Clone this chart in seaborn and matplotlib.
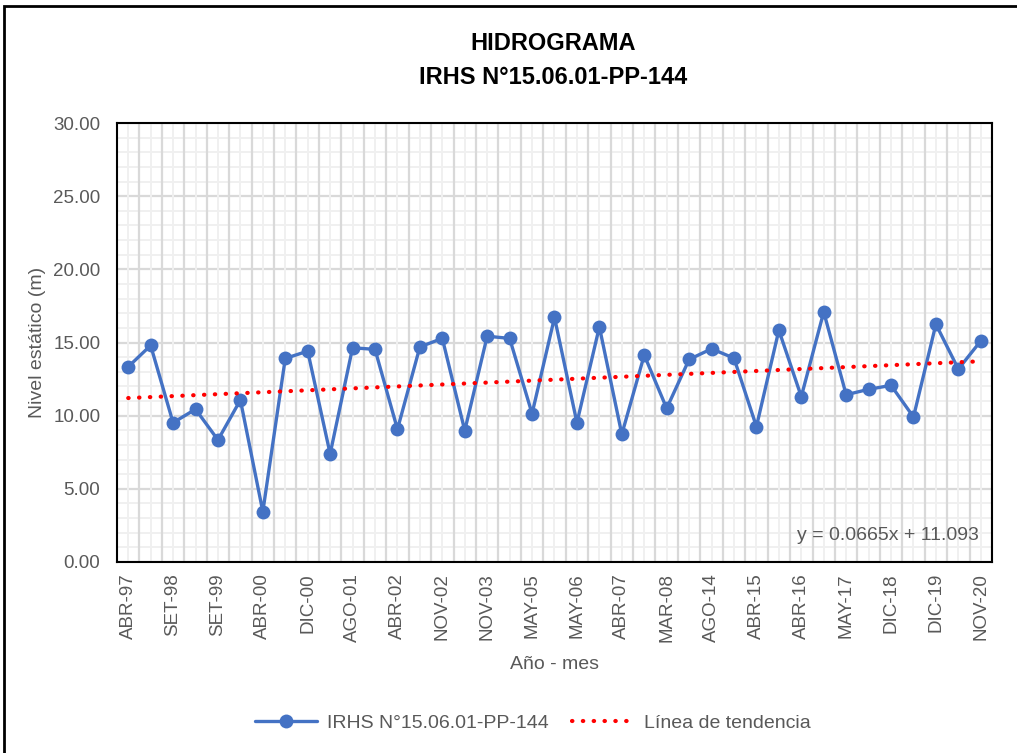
import numpy as np
import pandas as pd
import matplotlib
matplotlib.use("Agg")
import matplotlib.pyplot as plt
from matplotlib.patches import Rectangle
from matplotlib.lines import Line2D
import seaborn as sns

# ---- data ----
serie = "IRHS N°15.06.01-PP-144"
nivel = [13.34, 14.80, 9.52, 10.44, 8.34, 11.07, 3.44, 13.91, 14.41, 7.39,
         14.64, 14.53, 9.07, 14.70, 15.28, 8.98, 15.43, 15.28, 10.14, 16.71,
         9.52, 16.07, 8.73, 14.14, 10.50, 13.84, 14.57, 13.93, 9.25, 15.84,
         11.30, 17.09, 11.43, 11.80, 12.07, 9.91, 16.25, 13.18, 15.11]
etiquetas = ["ABR-97", "SET-98", "SET-99", "ABR-00", "DIC-00", "AGO-01", "ABR-02",
             "NOV-02", "NOV-03", "MAY-05", "MAY-06", "ABR-07", "MAR-08", "AGO-14",
             "ABR-15", "ABR-16", "MAY-17", "DIC-18", "DIC-19", "NOV-20"]
y_ticks = [0, 5, 10, 15, 20, 25, 30]
ecuacion = "y = 0.0665x + 11.093"

df = pd.DataFrame({"idx": np.arange(len(nivel)), "nivel": nivel})
coef = np.polyfit(df["idx"] + 1, df["nivel"], 1)
df["tendencia"] = np.polyval(coef, df["idx"] + 1)

sns.set_theme(style="white")
plt.rcParams["font.family"] = ["Liberation Sans", "DejaVu Sans"]

fig = plt.figure(figsize=(10.17, 7.53), dpi=100)
ax = fig.add_axes([117/1017, 1-562/753, (992-117)/1017, (562-123)/753])

gray = "#595959"
blue = "#4472C4"

# grid
for v in np.arange(0, 30.01, 1):
    major = (round(v) % 5 == 0)
    ax.axhline(v, color="#D9D9D9" if major else "#F0F0F0", lw=1.6 if major else 1.4, zorder=0)
for i in range(len(nivel)):
    ax.axvline(i, color="#F0F0F0", lw=1.4, zorder=0)
    ax.axvline(i + 0.5, color="#D9D9D9", lw=1.6, zorder=0)

sns.lineplot(data=df, x="idx", y="nivel", ax=ax, color=blue, lw=2.4,
             marker="o", markersize=10, markeredgewidth=0, zorder=3)
sns.lineplot(data=df, x="idx", y="tendencia", ax=ax, color="#FF0000", lw=3.0,
             linestyle=(0, (0.1, 2.5)), dash_capstyle="round", zorder=4)

ax.set_xlim(-0.5, len(nivel) - 0.5)
ax.set_ylim(0, 30)
ax.set_yticks(y_ticks)
ax.set_yticklabels([f"{v:.2f}" for v in y_ticks], color=gray, fontsize=13.5)
ax.set_xticks(np.arange(0, len(nivel), 2))
ax.set_xticklabels(etiquetas, rotation=90, color=gray, fontsize=13.5)
ax.tick_params(axis="y", length=0, pad=12)
ax.tick_params(axis="x", length=0, pad=8)
ax.set_xlabel("Año - mes", color=gray, fontsize=14, labelpad=10)
ax.set_ylabel("Nivel estático (m)", color=gray, fontsize=14, labelpad=5)
for s in ax.spines.values():
    s.set_color("black")
    s.set_linewidth(1.5)
    s.set_visible(True)

ax.text(0.985, 0.06, ecuacion, transform=ax.transAxes, ha="right", va="center",
        color=gray, fontsize=14)

fig.text(553/1017, 1-43/753, "HIDROGRAMA", ha="center", va="center",
         fontsize=17, fontweight="bold", color="black")
fig.text(553/1017, 1-77/753, serie, ha="center", va="center",
         fontsize=17, fontweight="bold", color="black")

handles = [Line2D([], [], color=blue, lw=2.4, marker="o", markersize=10, markeredgewidth=0),
           Line2D([], [], color="#FF0000", lw=3.0, linestyle=(0, (0.1, 2.5)), dash_capstyle="round")]
leg = fig.legend(handles, [serie, "Línea de tendencia"], loc="center",
                 bbox_to_anchor=(533/1017, 1-723/753), ncol=2, frameon=False,
                 fontsize=14, handlelength=3.2, columnspacing=1.2, handletextpad=0.5)
for t in leg.get_texts():
    t.set_color(gray)

fig.patches.append(Rectangle((4/1017, -0.05), 1.2, 1-6/753+0.05, transform=fig.transFigure,
                             fill=False, edgecolor="black", lw=2))

fig.savefig("out.png", dpi=100)
